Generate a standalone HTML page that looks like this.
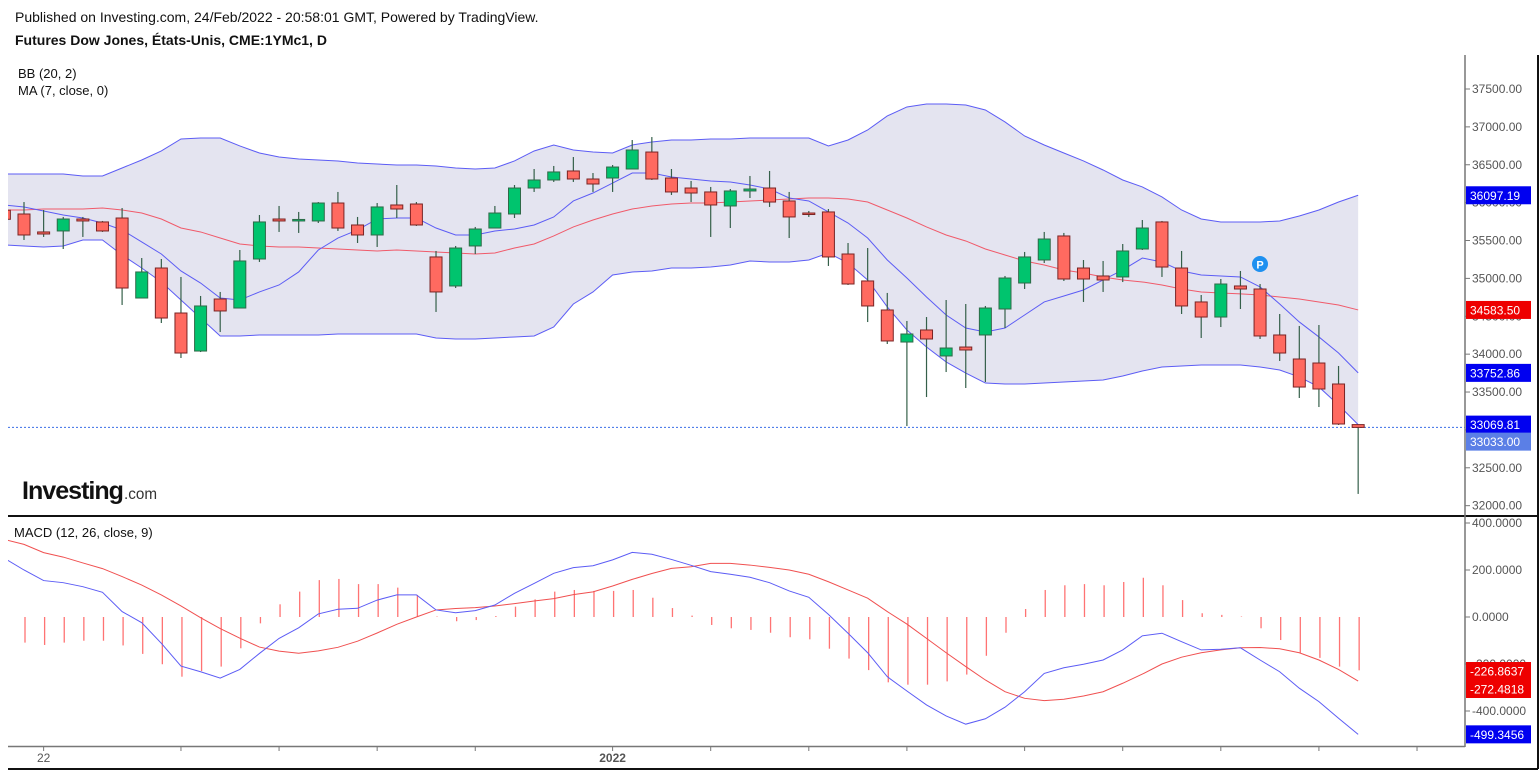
<!DOCTYPE html>
<html><head><meta charset="utf-8"><style>
html,body{margin:0;padding:0;background:#fff;}
svg{display:block;font-family:"Liberation Sans",sans-serif;}
.ax{font-size:12px;fill:#555;}
.lb{font-size:12px;fill:#fff;}
</style></head><body>
<svg id="chart" width="1540" height="772" viewBox="0 0 1540 772">
<text x="15" y="22" font-size="14" fill="#111">Published on Investing.com, 24/Feb/2022 - 20:58:01 GMT, Powered by TradingView.</text>
<text x="15" y="45" font-size="14" font-weight="bold" fill="#111">Futures Dow Jones, États-Unis, CME:1YMc1, D</text>
<text x="18" y="78" font-size="13" fill="#111">BB (20, 2)</text>
<text x="18" y="95" font-size="13" fill="#111">MA (7, close, 0)</text>
<defs>
<clipPath id="cm"><rect x="8" y="55" width="1457" height="460"/></clipPath>
<clipPath id="cd"><rect x="8" y="518" width="1457" height="228"/></clipPath>
</defs>
<g id="main" clip-path="url(#cm)"></g>
<g id="macdg" clip-path="url(#cd)"></g>
<g id="axes"></g>
<g><text x="22" y="499" font-size="25" font-weight="bold" fill="#111" letter-spacing="-1" textLength="101" lengthAdjust="spacingAndGlyphs">Investing</text><text x="124" y="499" font-size="16" fill="#333" textLength="33" lengthAdjust="spacingAndGlyphs">.com</text></g>
<text x="14" y="537" font-size="13" fill="#111">MACD (12, 26, close, 9)</text>
</svg>
<script>
const opens=[35900,35850,35613,35626,35784,35745,35797,34741,35137,34543,34041,34728,34609,35256,35784,35758,35758,35995,35705,35573,35969,35982,35283,34900,35428,35665,35850,36193,36299,36418,36312,36325,36444,36668,36325,36193,36141,35956,36154,36193,36022,35863,35877,35322,34966,34583,34160,34319,33976,34094,34253,34596,34939,35243,35560,35137,35032,35019,35388,35745,35137,34689,34490,34900,34860,34253,33936,33883,33606,33070];
const highs=[35950,36008,35903,35811,35811,35758,35929,35269,35256,35019,34768,34821,35375,35837,35956,35877,36008,36141,35811,35995,36233,36008,35362,35428,35679,35956,36233,36444,36484,36602,36391,36497,36827,36866,36444,36286,36207,36180,36352,36418,36141,35890,35916,35467,35401,34808,34438,34490,34715,34662,34636,35032,35349,35613,35600,35243,35230,35454,35771,35758,35362,34781,34992,35098,34926,34530,34372,34385,33844,33070];
const lows=[35700,35507,35547,35388,35547,35613,34649,34741,34411,33949,34028,34292,34609,35217,35613,35600,35731,35626,35467,35415,35797,35692,34557,34873,35322,35665,35797,36141,36273,36273,36141,36141,36444,36299,36101,36008,35547,35665,36061,35943,35533,35811,35164,34913,34424,34134,33051,33434,33764,33553,33632,34345,34860,35203,34966,34689,34821,34952,35375,35019,34530,34213,34358,34596,34200,33910,33421,33302,33065,32155];
const closes=[35780,35573,35586,35784,35758,35626,34873,35085,34477,34015,34636,34570,35230,35745,35758,35778,35995,35665,35573,35943,35916,35705,34821,35401,35652,35863,36193,36299,36405,36312,36246,36470,36695,36312,36141,36127,35969,36154,36180,36008,35811,35850,35283,34926,34636,34174,34266,34200,34081,34055,34609,35005,35283,35520,34992,34992,34979,35362,35665,35150,34636,34490,34926,34860,34240,34015,33566,33540,33078,33033];
const bbUpper=[36378,36378,36378,36378,36352,36352,36457,36563,36682,36840,36853,36853,36748,36655,36603,36576,36563,36550,36523,36510,36497,36497,36484,36457,36444,36457,36550,36682,36761,36695,36669,36655,36761,36801,36827,36827,36840,36840,36853,36853,36853,36853,36748,36827,36959,37144,37263,37302,37302,37289,37223,37065,36880,36761,36655,36550,36431,36299,36207,36075,35903,35784,35745,35745,35745,35758,35824,35903,36008,36097.19];
const bbMiddle=[35903,35903,35916,35916,35916,35929,35903,35863,35784,35665,35613,35533,35454,35428,35415,35415,35401,35388,35375,35362,35375,35362,35349,35335,35322,35335,35401,35454,35560,35679,35771,35850,35916,35956,35982,35995,35995,36008,36022,36035,36048,36061,36061,36048,36008,35903,35797,35679,35573,35494,35388,35309,35230,35177,35111,35071,35019,34979,34953,34913,34860,34821,34808,34795,34781,34755,34728,34689,34649,34583.5];
const bbLower=[35441,35428,35415,35428,35507,35507,35309,35137,34953,34715,34477,34240,34240,34253,34253,34253,34253,34266,34266,34266,34266,34266,34213,34200,34200,34213,34227,34240,34359,34662,34821,35045,35085,35098,35137,35137,35151,35177,35230,35217,35217,35243,35335,35203,34979,34623,34319,34094,33897,33751,33619,33606,33606,33619,33633,33646,33659,33712,33778,33831,33844,33857,33857,33857,33831,33791,33699,33567,33329,33069.81];
const ma7=[35969,35943,35890,35837,35797,35731,35639,35481,35322,35098,34939,34741,34715,34821,34913,35085,35375,35533,35639,35784,35797,35797,35665,35573,35573,35626,35652,35705,35811,36022,36127,36259,36391,36391,36339,36312,36286,36273,36233,36180,36061,36022,35877,35731,35533,35243,35005,34755,34517,34345,34293,34345,34517,34689,34768,34847,34979,35111,35269,35217,35098,35045,35032,35019,34887,34662,34425,34227,34015,33752.86];
const macdLine=[250,200,155,146,129,105,23,-24,-112,-209,-233,-260,-223,-155,-91,-46,13,33,37,72,94,94,30,18,27,51,101,143,186,210,218,243,275,267,245,220,193,182,169,146,111,84,11,-69,-152,-254,-315,-374,-421,-456,-433,-384,-318,-240,-216,-201,-183,-140,-80,-69,-105,-140,-137,-131,-183,-233,-303,-360,-431,-499.3456];
const signalLine=[330,309,274,255,230,206,172,136,94,47,-3,-49,-90,-128,-145,-154,-144,-129,-103,-68,-31,0,30,36,40,47,57,68,78,95,107,132,160,185,207,214,228,228,221,211,200,182,150,115,80,23,-30,-91,-152,-211,-268,-318,-346,-356,-350,-336,-318,-282,-243,-200,-171,-152,-140,-131,-130,-135,-152,-183,-223,-272.4818];
const histogram=[-80,-109,-119,-109,-101,-101,-121,-157,-201,-254,-230,-211,-133,-27,54,108,157,162,140,140,125,94,2,-18,-13,4,44,75,108,115,111,111,115,82,38,6,-34,-48,-55,-67,-86,-95,-135,-177,-226,-278,-288,-288,-274,-245,-165,-67,34,115,135,140,135,149,167,135,72,16,9,2,-48,-98,-152,-174,-211,-226.8637];
const priceTicks=[37500,37000,36500,36000,35500,35000,34500,34000,33500,33000,32500,32000];
const macdTicks=[400,200,0,-200,-400];
const xTickIdx=[2,9,14,19,24,31,36,41,46,52,57,62,67,72];
const xTickLabels={2:"22",31:"2022"};
const lastPrice=33033;

const NS="http://www.w3.org/2000/svg";
function xOf(i){return 24+19.62*(i-1);}
function yP(p){return 89+(37500-p)/13.2;}
function yM(v){return 617-v*0.235;}
function mk(tag,attrs,parent){const e=document.createElementNS(NS,tag);for(const k in attrs)e.setAttribute(k,attrs[k]);parent.appendChild(e);return e;}
const main=document.getElementById('main');
const md=document.getElementById('macdg');
const axes=document.getElementById('axes');
const n=closes.length;

let up=bbUpper.map((v,i)=>xOf(i)+','+yP(v));
let lo=bbLower.map((v,i)=>xOf(i)+','+yP(v)).reverse();
const fill=mk('polygon',{points:up.concat(lo).join(' '),fill:'#e4e4f0',stroke:'none'},main);


function line(arr,ys,color,name,parent){
  const pl=mk('polyline',{points:arr.map((v,i)=>xOf(i)+','+ys(v)).join(' '),fill:'none',stroke:color,'stroke-width':1},parent);
  
  
}
line(bbUpper,yP,'#5c5cf5','bollinger-upper',main);
line(bbLower,yP,'#5c5cf5','bollinger-lower',main);
line(bbMiddle,yP,'#f05a6a','bollinger-middle',main);
line(ma7,yP,'#5c5cf5','ma7-line',main);
const dl=mk('line',{x1:8,x2:1465,y1:yP(lastPrice),y2:yP(lastPrice),stroke:'#3a6ee8','stroke-dasharray':'2,2','stroke-width':1},main);


for(let i=0;i<n;i++){
  const x=xOf(i),o=opens[i],c=closes[i],isUp=c>=o;
  const g=mk('g',{},main);
  
  
  mk('line',{x1:x,x2:x,y1:yP(highs[i]),y2:yP(lows[i]),stroke:'#35604a','stroke-width':1.2},g);
  const top=yP(Math.max(o,c)),bot=yP(Math.min(o,c));
  mk('rect',{x:x-6,y:top,width:12,height:Math.max(bot-top,1.5),fill:isUp?'#00c46e':'#ff6a60',stroke:isUp?'#2f6a48':'#7a2424','stroke-width':1},g);
}
const pm=mk('g',{},main);


mk('circle',{cx:1260,cy:264,r:8,fill:'#1e90f0'},pm);
const pt=mk('text',{x:1260,y:268.5,'text-anchor':'middle','font-size':11,'font-weight':'bold',fill:'#fff'},pm);pt.textContent='P';

for(let i=0;i<n;i++){
  const b=mk('line',{x1:xOf(i)+1,x2:xOf(i)+1,y1:yM(0),y2:yM(histogram[i]),stroke:'#ff5a5a','stroke-width':1.3,'stroke-opacity':0.85},md);
  
  
}
line(signalLine,yM,'#f05050','macd-signal-line',md);
line(macdLine,yM,'#5c5cf5','macd-line',md);

function ln(x1,y1,x2,y2,c,w,name){const l=mk('line',{x1,y1,x2,y2,stroke:c,'stroke-width':w},axes);}
ln(8,516,1538,516,'#111',2,'pane-separator');
ln(1465,55,1465,747,'#777',1.5,'y-axis-line');
ln(8,746.5,1465,746.5,'#777',1.5,'x-axis-line');
ln(1538,55,1538,769,'#111',2,'right-frame');
ln(8,769,1538,769,'#111',2,'bottom-frame');
priceTicks.forEach(p=>{
  const y=yP(p);
  mk('line',{x1:1465,x2:1470,y1:y,y2:y,stroke:'#777'},axes);
  const t=mk('text',{x:1472,y:y+4,class:'ax'},axes);t.textContent=p.toFixed(2);
  
  
});
macdTicks.forEach(v=>{
  const y=yM(v);
  mk('line',{x1:1465,x2:1470,y1:y,y2:y,stroke:'#777'},axes);
  const t=mk('text',{x:1472,y:y+4,class:'ax'},axes);t.textContent=v.toFixed(4);
  
  
});
xTickIdx.forEach(i=>{
  const x=xOf(i);
  mk('line',{x1:x,x2:x,y1:746,y2:751,stroke:'#777'},axes);
  if(xTickLabels[i]){const t=mk('text',{x:x,y:762,'text-anchor':'middle',class:'ax','font-weight':i===31?'bold':'normal'},axes);t.textContent=xTickLabels[i];
  
  }
});
function badge(y,txt,bg,name){
  const g=mk('g',{},axes);
  
  
  mk('rect',{x:1466,y:y-9,width:65,height:18,fill:bg},g);
  const t=mk('text',{x:1470,y:y+4.5,class:'lb'},g);t.textContent=txt;
}
badge(yP(bbUpper[n-1]),bbUpper[n-1].toFixed(2),'#0000f0','bb-upper-badge');
badge(yP(bbMiddle[n-1]),bbMiddle[n-1].toFixed(2),'#ee0000','bb-middle-badge');
badge(yP(ma7[n-1]),ma7[n-1].toFixed(2),'#0000f0','ma7-badge');
badge(yP(bbLower[n-1]),bbLower[n-1].toFixed(2),'#0000f0','bb-lower-badge');
badge(yP(bbLower[n-1])+17,lastPrice.toFixed(2),'#5b7fe6','last-price-badge');
badge(671,histogram[n-1].toFixed(4),'#ee0000','histogram-badge');
badge(689,signalLine[n-1].toFixed(4),'#ee0000','signal-badge');
badge(Math.min(yM(macdLine[n-1]),737),macdLine[n-1].toFixed(4),'#0000f0','macd-badge');
</script>
</body></html>
